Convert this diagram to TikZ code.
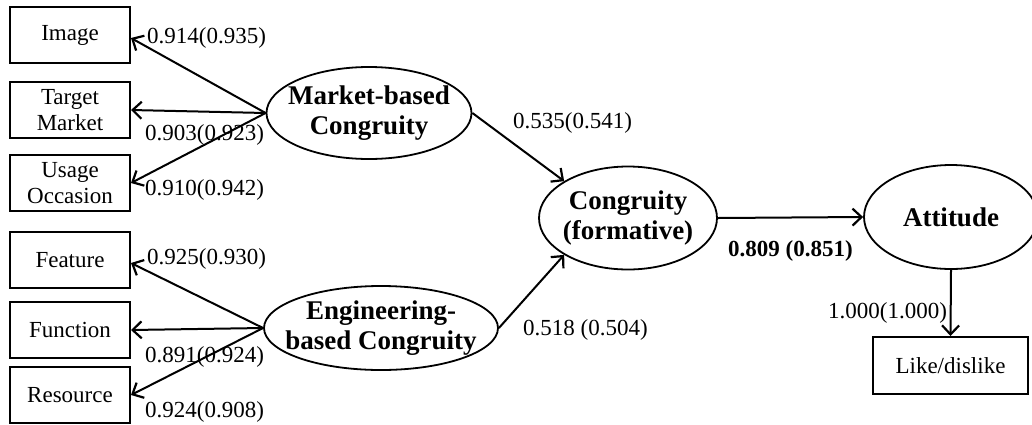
\documentclass[tikz,border=0pt]{standalone}
\usepackage{fontspec}
\setmainfont{Liberation Serif}
\usetikzlibrary{shapes.geometric,arrows.meta}
\tikzset{
  x=1pt, y=-1pt,
  item/.style={draw, line width=2pt, minimum width=120pt, minimum height=56pt,
    align=center, inner sep=0pt, font=\fontsize{23}{25.5}\selectfont},
  latent/.style={draw, ellipse, line width=1.8pt, inner sep=0pt},
  latenttext/.style={align=center, inner sep=0pt,
    font=\fontsize{27}{30}\selectfont\bfseries},
  arr/.style={line width=2pt, -{Straight Barb[length=9pt,width=17pt,line width=2.2pt]}},
  coef/.style={anchor=base west, inner sep=0pt, font=\fontsize{23}{25}\selectfont},
}
\begin{document}
\begin{tikzpicture}
\useasboundingbox (0,0) rectangle (1032,424);

% indicator boxes
\node[item] (image)   at (70,35)  {Image};
\node[item] (target)  at (70,110) {Target\\Market};
\node[item] (usage)   at (70,183) {Usage\\Occasion};
\node[item] (feature) at (70,260) {Feature};
\node[item] (function) at (70,330) {Function};
\node[item] (resource) at (70,395) {Resource};
\node[item, minimum width=155pt, minimum height=57pt] (like) at (950.5,365.5) {Like/dislike};

% latent constructs: outline, then the name on top
\node[latent, minimum width=205pt, minimum height=92pt] (mkt) at (369,113) {};
\node[latenttext] (mkt-t) at (mkt) {Market-based\\Congruity};
\node[latent, minimum width=234pt, minimum height=84pt] (eng) at (381,328) {};
\node[latenttext] (eng-t) at (eng) {Engineering-\\based Congruity};
\node[latent, minimum width=178pt, minimum height=103pt] (cong) at (628,218) {};
\node[latenttext] (cong-t) at (cong) {Congruity\\(formative)};
\node[latent, minimum width=174pt, minimum height=104pt] (att) at (951,217) {};
\node[latenttext] (att-t) at (att) {Attitude};

% loadings
\draw[arr] (mkt.west) -- ([yshift=-3pt]image.east);
\draw[arr] (mkt.west) -- (target.east);
\draw[arr] (mkt.west) -- (usage.east);
\draw[arr] (eng.west) -- ([yshift=-3pt]feature.east);
\draw[arr] (eng.west) -- (function.east);
\draw[arr] (eng.west) -- (resource.east);

% structural paths
\draw[arr] (mkt.east) -- (cong.150);
\draw[arr] (eng.east) -- (cong.210);
\draw[arr] (cong.east) -- (att.west);
\draw[arr] (att.south) -- (like.north);

% coefficients
\node[coef] (l1) at (147,43)  {0.914(0.935)};
\node[coef] (l2) at (145,140) {0.903(0.923)};
\node[coef] (l3) at (145,195) {0.910(0.942)};
\node[coef] (l4) at (147,264) {0.925(0.930)};
\node[coef] (l5) at (145,362) {0.891(0.924)};
\node[coef] (l6) at (145,417) {0.924(0.908)};
\node[coef] (l7) at (513,128) {0.535(0.541)};
\node[coef] (l8) at (523,335) {0.518 (0.504)};
\node[coef] (l9) at (828,318) {1.000(1.000)};
\node[coef, font=\fontsize{23}{25}\selectfont\bfseries] (l10) at (728,256) {0.809 (0.851)};
\end{tikzpicture}
\end{document}
